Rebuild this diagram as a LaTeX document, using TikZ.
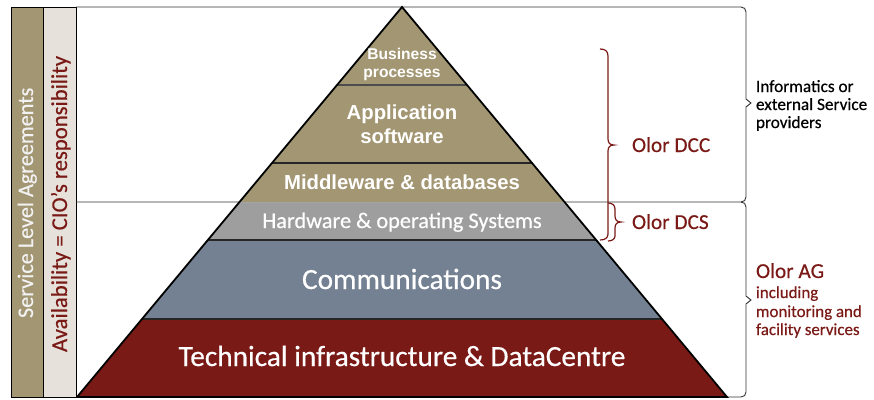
\documentclass[tikz,border=0pt]{standalone}
\usepackage{fontspec}
\setmainfont{Carlito}[FakeBold=0.45]
\newfontfamily\arialf{Liberation Sans}
\definecolor{tanc}{HTML}{A39673}
\definecolor{lightbar}{HTML}{E6E2DB}
\definecolor{hwgray}{HTML}{9E9E9E}
\definecolor{commc}{HTML}{738193}
\definecolor{techc}{HTML}{7A1A16}
\definecolor{olred}{HTML}{7A1A16}
\newcommand{\fsz}[1]{\fontsize{#1}{#1}\selectfont}
\begin{document}
\begin{tikzpicture}[x=1pt,y=-1pt,
  frameline/.style={line width=0.9pt, draw=black!80},
  sep/.style={line width=1.6pt, draw=black!85},
  redbrace/.style={line width=1.2pt, draw=olred},
  boldlbl/.style={anchor=base, text=white, font=\arialf\bfseries\fsz{#1}},
  lbl/.style={anchor=base, text=white, font=\fsz{#1}},
  rtxt/.style={anchor=base west, font=\fsz{#1}},
  inner sep=0pt, outer sep=0pt]
\useasboundingbox (0,0) rectangle (874,399);
% left bars
\fill[tanc] (11,7) rectangle (43,397);
\fill[lightbar] (43,7) rectangle (76,397);
\draw[line width=0.9pt] (11,7) rectangle (76,397);
\draw[line width=0.9pt] (43,7) -- (43,397);
% frame lines with right brackets
\draw[frameline] (76,7) -- (741,7) .. controls (744,7) and (746,9) .. (746,12)
  -- (746,99) -- (751,103) -- (746,107) -- (746,197)
  .. controls (746,200) and (744,202) .. (741,202) -- (76,202);
\draw[frameline] (741,202) .. controls (744,202) and (746,204) .. (746,207)
  -- (746,296) -- (751,300) -- (746,304) -- (746,392)
  .. controls (746,395) and (744,397) .. (741,397) -- (76,397);
% pyramid layers
\fill[tanc] (402,7) -- (467,85) -- (337,85) -- cycle;
\fill[tanc] (337,85) -- (467,85) -- (532,163) -- (272,163) -- cycle;
\fill[tanc] (272,163) -- (532,163) -- (564.5,202) -- (239.5,202) -- cycle;
\fill[hwgray] (239.5,202) -- (564.5,202) -- (596.2,240) -- (207.8,240) -- cycle;
\fill[commc] (207.8,240) -- (596.2,240) -- (662,319) -- (142,319) -- cycle;
\fill[techc] (142,319) -- (662,319) -- (727,397) -- (77,397) -- cycle;
\draw[line width=1.4pt, draw=black!70] (337,85) -- (467,85);
\draw[sep] (272,163) -- (532,163);
\draw[line width=1pt, draw=black!35, dash pattern=on 2pt off 1pt] (239.5,202) -- (564.5,202);
\draw[sep] (207.8,240) -- (596.2,240);
\draw[sep] (142,319) -- (662,319);
\draw[line width=1.8pt, line join=miter] (77,397) -- (402,7) -- (727,397) -- cycle;
% pyramid labels
\node[boldlbl=15.6] (bp1) at (402,59) {Business};
\node[boldlbl=15.6] (bp2) at (402,77) {processes};
\node[boldlbl=20.3] (app1) at (402,119) {Application};
\node[boldlbl=20.3] (app2) at (402,143) {software};
\node[boldlbl=20.3] (mid) at (402,189) {Middleware \& databases};
\node[lbl=22.3] (hw) at (402,228) {Hardware \& operating Systems};
\node[lbl=29.3] (com) at (402,289) {Communications};
\node[lbl=29.3] (tech) at (402,366) {Technical infrastructure \& DataCentre};
% vertical labels
\node[rotate=90, anchor=base west, text=white!95!black, font=\fsz{22.2}] (sla) at (33,318) {Service Level Agreements};
\node[rotate=90, anchor=base west, text=olred, font=\fsz{22.7}] (avail) at (67,352) {Availability = CIO's responsibility};
% red braces
\draw[redbrace] (600,49) .. controls (605,49) and (608,51) .. (608,56) -- (608,139)
  .. controls (608,143) and (610,145) .. (614,145)
  .. controls (610,145) and (608,147) .. (608,151) -- (608,234)
  .. controls (608,238) and (605,240) .. (600,240);
\draw[redbrace] (608,203) .. controls (612,203) and (615,205) .. (615,209) -- (615,216)
  .. controls (615,220) and (617,222) .. (621,222)
  .. controls (617,222) and (615,224) .. (615,228) -- (615,236)
  .. controls (615,239) and (612,241) .. (608,241);
% right texts
\node[rtxt=21.3, text=olred] (dcc) at (632,152) {Olor DCC};
\node[rtxt=21.3, text=olred] (dcs) at (632,229) {Olor DCS};
\node[rtxt=17.2] (inf1) at (756,92) {Informatics or};
\node[rtxt=17.2] (inf2) at (756,110) {external Service};
\node[rtxt=17.2] (inf3) at (756,128) {providers};
\node[rtxt=21.3, text=olred] (ag) at (756,278) {Olor AG};
\node[rtxt=16.9, text=olred] (ag1) at (756,298) {including};
\node[rtxt=16.9, text=olred] (ag2) at (756,317) {monitoring and};
\node[rtxt=16.9, text=olred] (ag3) at (756,335) {facility services};
\end{tikzpicture}
\end{document}
